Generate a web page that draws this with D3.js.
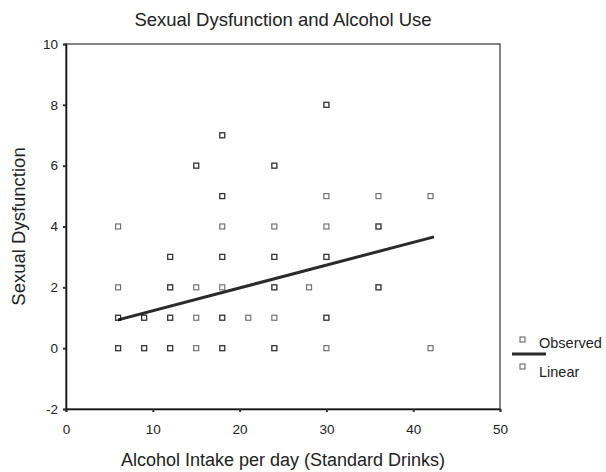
<!DOCTYPE html>
<html>
<head>
<meta charset="utf-8">
<script src="https://cdn.jsdelivr.net/npm/d3@7"></script>
<style>
  body { margin: 0; background: #fff; }
  text { font-family: "Liberation Sans", Arial, sans-serif; fill: #222; }
</style>
</head>
<body>
<div id="chart"></div>
<script>
// observed cases: one x column each, y values listed per column
// (a repeated value = overlapping cases, which print darker)
const obsCols = [6, 9, 12, 15, 18, 21, 24, 28, 30, 36, 42];
const obsVals = [
  [0, 0, 1, 1, 2, 4],
  [0, 0, 1, 1],
  [0, 0, 1, 1, 2, 2, 3, 3],
  [0, 1, 2, 6, 6],
  [0, 0, 1, 1, 2, 3, 3, 4, 5, 5, 7, 7],
  [1],
  [0, 0, 1, 2, 2, 3, 3, 4, 6, 6],
  [2],
  [0, 1, 1, 3, 3, 4, 5, 8, 8],
  [2, 2, 4, 4, 5],
  [0, 5]
];
// fitted linear line ends
const fitX = [6, 42.4];
const fitY = [0.93, 3.66];
const xTicks = [0, 10, 20, 30, 40, 50];
const yTicks = [-2, 0, 2, 4, 6, 8, 10];

const W = 606, H = 472;
const margin = {top: 44, right: 106, bottom: 63, left: 66};
const gW = W - margin.left - margin.right;
const gH = H - margin.top - margin.bottom;

const points = [];
obsCols.forEach((c, i) => obsVals[i].forEach(v => points.push({x: c, y: v})));

const svg = d3.select("#chart").append("svg")
  .attr("width", W).attr("height", H);

const g = svg.append("g")
  .attr("transform", "translate(" + margin.left + "," + margin.top + ")");

const x = d3.scaleLinear().domain([0, 50]).range([0, gW]);
const y = d3.scaleLinear().domain([-2, 10]).range([gH, 0]);

// frame
g.append("rect")
  .attr("x", 0).attr("y", 0).attr("width", gW).attr("height", gH)
  .attr("fill", "none").attr("stroke", "#333").attr("stroke-width", 1.2);

// axes
g.append("g")
  .attr("transform", "translate(0," + gH + ")")
  .call(d3.axisBottom(x).tickValues(xTicks).tickFormat(d => String(d)).tickSize(3).tickPadding(12))
  .call(a => a.select(".domain").attr("stroke", "#111").attr("stroke-width", 1.5))
  .call(a => a.selectAll(".tick line").attr("stroke", "#333").attr("stroke-width", 2))
  .selectAll("text").attr("font-size", "13.5px").attr("fill", "#222")
  .attr("font-family", "Liberation Sans, Arial, sans-serif");

g.append("g")
  .call(d3.axisLeft(y).tickValues(yTicks).tickFormat(d => String(d)).tickSize(3).tickPadding(5))
  .call(a => a.select(".domain").attr("stroke", "#111").attr("stroke-width", 1.5))
  .call(a => a.selectAll(".tick line").attr("stroke", "#333").attr("stroke-width", 2))
  .selectAll("text").attr("font-size", "13.5px").attr("fill", "#222")
  .attr("font-family", "Liberation Sans, Arial, sans-serif");

// fitted line
g.append("line")
  .attr("x1", x(fitX[0])).attr("y1", y(fitY[0]))
  .attr("x2", x(fitX[1])).attr("y2", y(fitY[1]))
  .attr("stroke", "#2a2a2a").attr("stroke-width", 3);

// observed markers
g.selectAll("rect.obs")
  .data(points)
  .enter()
  .append("rect")
  .attr("class", "obs")
  .attr("x", d => x(d.x) - 2.5)
  .attr("y", d => y(d.y) - 2.5)
  .attr("width", 5).attr("height", 5)
  .attr("fill", "none")
  .attr("stroke", "#000")
  .attr("stroke-opacity", 0.55)
  .attr("stroke-width", 1.2);

// titles
svg.append("text")
  .attr("x", 283).attr("y", 26)
  .attr("text-anchor", "middle").attr("font-size", "18.5px")
  .text("Sexual Dysfunction and Alcohol Use");

svg.append("text")
  .attr("x", 283).attr("y", 466)
  .attr("text-anchor", "middle").attr("font-size", "18px")
  .text("Alcohol Intake per day (Standard Drinks)");

svg.append("text")
  .attr("transform", "translate(25," + (margin.top + gH / 2) + ")rotate(-90)")
  .attr("text-anchor", "middle").attr("font-size", "18.5px")
  .text("Sexual Dysfunction");

// legend
const leg = svg.append("g");
leg.append("rect")
  .attr("x", 520).attr("y", 337).attr("width", 5).attr("height", 5)
  .attr("fill", "none").attr("stroke", "#000").attr("stroke-opacity", 0.6).attr("stroke-width", 1.1);
leg.append("text").attr("x", 539).attr("y", 348).attr("font-size", "14.5px").text("Observed");
leg.append("line")
  .attr("x1", 512).attr("x2", 546).attr("y1", 354).attr("y2", 354)
  .attr("stroke", "#2a2a2a").attr("stroke-width", 3);
leg.append("rect")
  .attr("x", 520).attr("y", 364).attr("width", 5).attr("height", 5)
  .attr("fill", "none").attr("stroke", "#000").attr("stroke-opacity", 0.6).attr("stroke-width", 1.1);
leg.append("text").attr("x", 539).attr("y", 377).attr("font-size", "14.5px").text("Linear");
</script>
</body>
</html>
